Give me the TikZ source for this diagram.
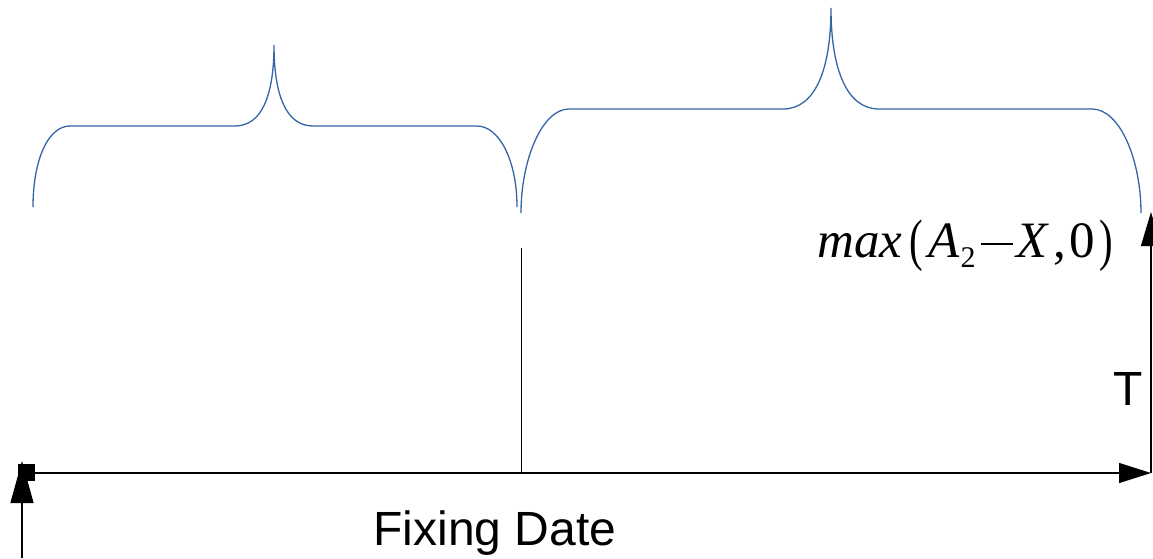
\documentclass[tikz,border=0pt]{standalone}
\usepackage{fontspec}
\usepackage{graphicx}
\setmainfont{Liberation Sans}
\newfontfamily\fserif{Liberation Serif}
\usetikzlibrary{arrows.meta}
\definecolor{braceblue}{HTML}{3465A4}
\tikzset{
  bracepath/.style={draw=braceblue, line width=0.65pt},
  axisline/.style={draw=black, line width=0.6pt},
  lbl/.style={inner sep=0pt, font=\fontsize{24}{28}\selectfont},
}
\newcommand{\tallparen}[1]{\raisebox{-1pt}{\scalebox{0.8}[1.12]{\upshape #1}}}
\begin{document}
\begin{tikzpicture}[x=0.5pt,y=-0.5pt]
\useasboundingbox (0,0) rectangle (1153,558);
% coordinates
\coordinate (o) at (22,473);
\coordinate (xend) at (1151,473);
\coordinate (mid) at (521,473);
\coordinate (midtop) at (521,248);
\coordinate (lbot) at (22,558);
\coordinate (ltip) at (22,461);
\coordinate (rtip) at (1151,212);
% axis
\draw[axisline, -{Triangle[length=16pt,width=10pt]}] (o) -- (xend);
\draw[axisline, line width=0.5pt] (mid) -- (midtop);
\draw[axisline, -{Triangle[length=17pt,width=10pt]}] (xend) -- (rtip);
\draw[axisline, -{Triangle[length=21pt,width=11.5pt]}] (lbot) -- (ltip);
\fill[black] (18,464) rectangle (35,481);
% braces
\draw[bracepath] (33,207) .. controls (33,160) and (48,126) .. (70,126)
  -- (235,126) .. controls (262,126) and (274,95) .. (274,45)
  .. controls (274,95) and (286,126) .. (313,126)
  -- (477,126) .. controls (499,126) and (517,160) .. (517,207);
\draw[bracepath] (521,213) .. controls (521,160) and (542,109) .. (569,109)
  -- (783,109) .. controls (815,109) and (831,70) .. (831,8)
  .. controls (831,70) and (847,109) .. (879,109)
  -- (1092,109) .. controls (1120,109) and (1141,160) .. (1141,213);
% labels
\node[lbl, anchor=center] (fix) at (495,533) {Fixing Date};
\node[lbl, anchor=center] (tlab) at (1128,389) {T};
\node[inner sep=0pt, anchor=base west] (payoff) at (817,257)
  {\fserif\fontsize{25.5}{30}\selectfont\itshape max\kern3.5pt\tallparen{(}\kern3pt A\kern0.3pt\raisebox{-5pt}{\upshape\fontsize{15}{17}\selectfont 2}\kern2.5pt\rule[6.2pt]{16pt}{0.8pt}\kern2pt X\kern3pt{\upshape ,\kern1.5pt0}\kern2pt\tallparen{)}};
\end{tikzpicture}
\end{document}
